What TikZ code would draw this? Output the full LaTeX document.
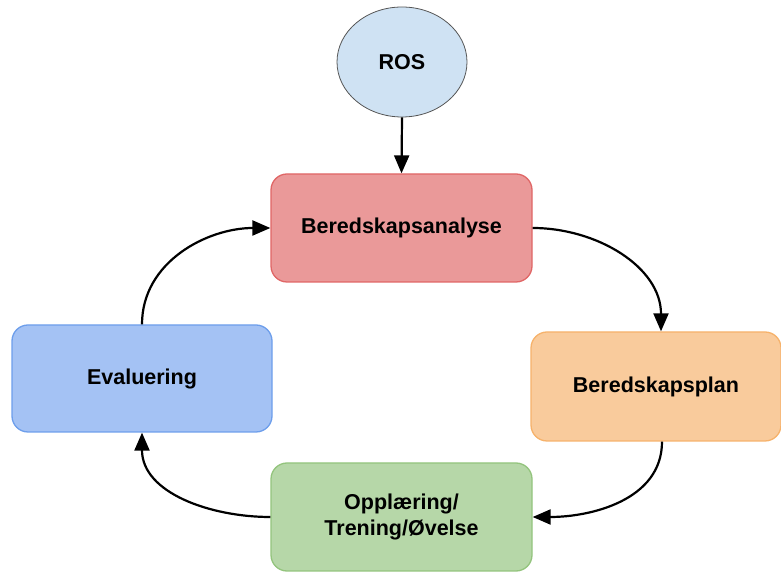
\documentclass[tikz,border=0pt]{standalone}
\usepackage{fontspec}
\setmainfont{Liberation Sans}
\usetikzlibrary{shapes.geometric,arrows.meta}
\definecolor{rosfill}{HTML}{CFE2F3}
\definecolor{rosline}{HTML}{555555}
\definecolor{redfill}{HTML}{EA9999}
\definecolor{redline}{HTML}{E06666}
\definecolor{orfill}{HTML}{F9CB9C}
\definecolor{orline}{HTML}{F6B26B}
\definecolor{grfill}{HTML}{B6D7A8}
\definecolor{grline}{HTML}{93C47D}
\definecolor{blfill}{HTML}{A4C2F4}
\definecolor{blline}{HTML}{6D9EEB}
\tikzset{
  lbl/.style={font=\fontsize{21.5}{26}\selectfont\bfseries, align=center},
  boxnode/.style={lbl, rectangle, rounded corners=16pt, line width=1.3pt, inner sep=0pt, minimum width=261pt, minimum height=108pt},
  conn/.style={line width=2.2pt, -{Triangle[length=18pt,width=15pt]}}
}
\begin{document}
\begin{tikzpicture}[x=1pt,y=1pt]
\useasboundingbox (0,0) rectangle (781,572);
\begin{scope}
\clip (0,0) rectangle (781,572);
\node[lbl, ellipse, draw=rosline, fill=rosfill, line width=0.8pt, minimum width=130pt, minimum height=110pt, inner sep=0pt] (ros) at (402,510) {ROS};
\node[boxnode, draw=redline, fill=redfill] (ana) at (401.5,344) {Beredskapsanalyse};
\node[boxnode, draw=orline, fill=orfill, minimum width=250pt, minimum height=109pt] (plan) at (656,185.5) {Beredskapsplan};
\node[boxnode, draw=grline, fill=grfill] (opp) at (401.5,55) {Opplæring/\\Trening/Øvelse};
\node[boxnode, draw=blline, fill=blfill, minimum width=260pt, minimum height=107pt] (eval) at (142,193.5) {Evaluering};
\coordinate (plantop) at ([xshift=5pt]plan.north);
\coordinate (planbot) at ([xshift=6pt]plan.south);
\draw[conn] (ros.south) -- (ana.north);
\draw[conn] (ana.east) to[out=0,in=90] (plantop);
\draw[conn] (planbot) to[out=-90,in=0] (opp.east);
\draw[conn] (opp.west) to[out=180,in=-90] (eval.south);
\draw[conn] (eval.north) to[out=90,in=180] (ana.west);
\end{scope}
\end{tikzpicture}
\end{document}
